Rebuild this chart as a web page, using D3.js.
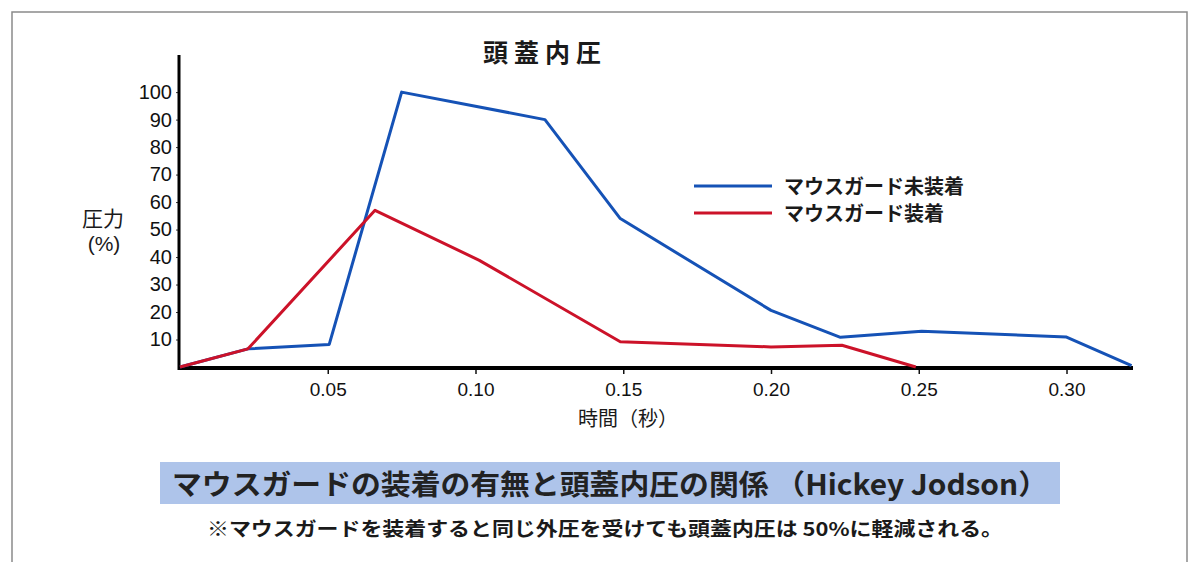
<!DOCTYPE html>
<html>
<head>
<meta charset="utf-8">
<script src="https://cdn.jsdelivr.net/npm/d3@7"></script>
<style>
  body { margin: 0; background: #fff; }
  svg { display: block; }
  .jp { font-family: "Noto Sans CJK JP", sans-serif; }
  .num { font-family: "Liberation Sans", Arial, sans-serif; }
</style>
</head>
<body>
<script>
// time (s) and pressure (%)
const timeNoGuard = [0, 0.023, 0.0505, 0.075, 0.1235, 0.149, 0.2, 0.2235, 0.251, 0.300, 0.322];
const pressNoGuard = [0, 6.6, 8.2, 100, 90, 54, 20.6, 10.8, 13, 10.9, 0.5];
const timeGuard = [0, 0.023, 0.066, 0.1013, 0.149, 0.2, 0.224, 0.249];
const pressGuard = [0, 6.6, 57, 38.8, 9.2, 7.3, 7.9, 0];
const yTicks = [10, 20, 30, 40, 50, 60, 70, 80, 90, 100];
const xTicks = [0.05, 0.10, 0.15, 0.20, 0.25, 0.30];
const legendNames = ['マウスガード未装着', 'マウスガード装着'];

const width = 1198;
const height = 562;

const svg = d3.select('body').append('svg')
    .attr('width', width)
    .attr('height', height);

// outer frame
svg.append('rect')
  .attr('x', 12).attr('y', 12)
  .attr('width', 1175).attr('height', 580)
  .attr('fill', 'none')
  .attr('stroke', '#8a8a8a')
  .attr('stroke-width', 1.5);

const x = d3.scaleLinear().domain([0, 0.3225]).range([180, 1133]);
const y = d3.scaleLinear().domain([0, 113.5]).range([367, 55]);

// title
svg.append('text')
  .attr('class', 'jp')
  .attr('x', 545).attr('y', 62)
  .attr('text-anchor', 'middle')
  .attr('font-size', 25)
  .attr('font-weight', 'bold')
  .attr('letter-spacing', 6)
  .attr('fill', '#1a1a1a')
  .text('頭蓋内圧');

// y axis
const yAxis = svg.append('g')
  .attr('transform', 'translate(179,0)')
  .call(d3.axisLeft(y).tickValues(yTicks).tickSize(3).tickFormat(d3.format('d')));
yAxis.select('.domain').remove();
yAxis.selectAll('text')
  .attr('class', 'num')
  .attr('font-size', 20)
  .attr('fill', '#111')
  .attr('x', -7);
yAxis.selectAll('line').attr('stroke', '#333');

// x axis
const xAxis = svg.append('g')
  .attr('transform', 'translate(0,368)')
  .call(d3.axisBottom(x).tickValues(xTicks).tickSize(6).tickFormat(d3.format('.2f')));
xAxis.select('.domain').remove();
xAxis.selectAll('text')
  .attr('class', 'num')
  .attr('font-size', 19)
  .attr('fill', '#111')
  .attr('y', 15);
xAxis.selectAll('line').attr('stroke', '#111').attr('stroke-width', 1.5);

svg.append('line')
  .attr('x1', 179).attr('x2', 179)
  .attr('y1', y(113.5)).attr('y2', 370)
  .attr('stroke', '#000').attr('stroke-width', 3);
svg.append('line')
  .attr('x1', 178).attr('x2', 1133)
  .attr('y1', 368).attr('y2', 368)
  .attr('stroke', '#000').attr('stroke-width', 4);

// axis titles
svg.append('text').attr('class', 'jp')
  .attr('x', 103).attr('y', 226)
  .attr('text-anchor', 'middle')
  .attr('font-size', 21).attr('fill', '#1a1a1a')
  .text('圧力');
svg.append('text').attr('class', 'num')
  .attr('x', 104).attr('y', 251)
  .attr('text-anchor', 'middle')
  .attr('font-size', 21).attr('fill', '#1a1a1a')
  .text('(%)');
svg.append('text').attr('class', 'jp')
  .attr('x', 628).attr('y', 426)
  .attr('text-anchor', 'middle')
  .attr('font-size', 20).attr('fill', '#1a1a1a')
  .attr('textLength', 100)
  .attr('lengthAdjust', 'spacingAndGlyphs')
  .text('時間（秒）');

// lines
const line = d3.line().x(d => x(d[0])).y(d => y(d[1]));
const series = [
  { pts: d3.zip(timeNoGuard, pressNoGuard), color: '#1552b6' },
  { pts: d3.zip(timeGuard, pressGuard), color: '#cc1229' }
];

svg.append('g')
  .selectAll('path')
  .data(series)
  .join('path')
    .attr('d', d => line(d.pts))
    .attr('fill', 'none')
    .attr('stroke', d => d.color)
    .attr('stroke-width', 3)
    .attr('stroke-linejoin', 'round');

// legend
const legend = svg.append('g')
  .selectAll('g')
  .data(legendNames)
  .join('g')
    .attr('transform', (d, i) => `translate(0,${186 + i * 27})`);
legend.append('line')
  .attr('x1', 694).attr('x2', 772)
  .attr('stroke', (d, i) => series[i].color)
  .attr('stroke-width', 3);
legend.append('text')
  .attr('class', 'jp')
  .attr('x', 784).attr('y', 8)
  .attr('font-size', 20)
  .attr('font-weight', 'bold')
  .attr('fill', '#1a1a1a')
  .text(d => d);

// caption band
svg.append('rect')
  .attr('x', 160).attr('y', 462)
  .attr('width', 900).attr('height', 42)
  .attr('fill', '#aec4ea');
svg.append('text').attr('class', 'jp')
  .attr('x', 172).attr('y', 495)
  .attr('font-size', 28)
  .attr('font-weight', 'bold')
  .attr('fill', '#222')
  .attr('textLength', 876)
  .attr('lengthAdjust', 'spacingAndGlyphs')
  .text('マウスガードの装着の有無と頭蓋内圧の関係 （Hickey Jodson）');

svg.append('text').attr('class', 'jp')
  .attr('x', 207).attr('y', 536)
  .attr('font-size', 19)
  .attr('font-weight', 'bold')
  .attr('fill', '#1a1a1a')
  .attr('textLength', 796)
  .attr('lengthAdjust', 'spacingAndGlyphs')
  .text('※マウスガードを装着すると同じ外圧を受けても頭蓋内圧は 50%に軽減される。');
</script>
</body>
</html>
